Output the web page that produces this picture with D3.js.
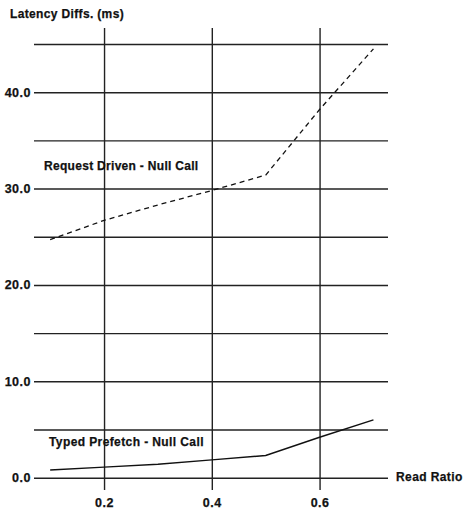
<!DOCTYPE html>
<html><head><meta charset="utf-8">
<script src="https://cdn.jsdelivr.net/npm/d3@7"></script>
<style>
html,body{margin:0;padding:0;background:#fff;}
text{font-family:"Liberation Sans",Arial,Helvetica,sans-serif;font-weight:bold;fill:#111;stroke:#111;stroke-width:0.25px;}
</style></head>
<body>
<svg id="c" width="465" height="511"></svg>
<script>
const readRatio = [0.1, 0.2, 0.3, 0.4, 0.5, 0.6, 0.7];
const requestDriven = [24.7, 26.7, 28.3, 29.8, 31.4, 38.2, 44.5];
const typedPrefetch = [0.8, 1.1, 1.4, 1.85, 2.3, 4.2, 6.0];
const xTicks = [0.2, 0.4, 0.6];
const yGrid = [0, 5, 10, 15, 20, 25, 30, 35, 40, 45];
const yLabelTicks = [0, 10, 20, 30, 40];
const yTitle = "Latency Diffs. (ms)";
const xTitle = "Read Ratio";
const seriesNames = ["Request Driven - Null Call", "Typed Prefetch - Null Call"];

const svg = d3.select("#c");
const x = d3.scaleLinear().domain([0.07, 0.727]).range([34, 388]);
const y = d3.scaleLinear().domain([0, 45]).range([477.7, 44]);
const vTop = 28, vBot = 490;

// horizontal grid + y labels
const gy = svg.append("g").attr("transform", `translate(${x.range()[0]},0)`)
  .call(d3.axisLeft(y).tickValues(yGrid)
    .tickSizeInner(-(x.range()[1] - x.range()[0])).tickSizeOuter(0).tickPadding(3)
    .tickFormat(d => yLabelTicks.includes(d) ? d3.format(".1f")(d) : ""));
gy.select(".domain").remove();
gy.selectAll(".tick line").attr("stroke", "#222").attr("stroke-width", 1.4);
gy.selectAll(".tick text").style("font-size", "12.5px").style("letter-spacing", "0.5px").attr("fill", "#111");

// vertical grid + x labels
const gx = svg.append("g").attr("transform", `translate(0,${vBot})`)
  .call(d3.axisBottom(x).tickValues(xTicks)
    .tickSizeInner(-(vBot - vTop)).tickSizeOuter(0).tickPadding(8)
    .tickFormat(d3.format(".1f")));
gx.select(".domain").remove();
gx.selectAll(".tick line").attr("stroke", "#222").attr("stroke-width", 1.4);
gx.selectAll(".tick text").style("font-size", "12.5px").style("letter-spacing", "0.5px").attr("fill", "#111");

const line = d3.line().x((d, i) => x(readRatio[i])).y(d => y(d));
svg.append("path").datum(requestDriven).attr("d", line)
  .attr("fill", "none").attr("stroke", "#111").attr("stroke-width", 1.3)
  .attr("stroke-dasharray", "5,4");
svg.append("path").datum(typedPrefetch).attr("d", line)
  .attr("fill", "none").attr("stroke", "#111").attr("stroke-width", 1.4);

svg.append("text").attr("x", 10).attr("y", 18).style("font-size", "12px").style("letter-spacing", "0.35px").text(yTitle);
svg.append("text").attr("x", 396).attr("y", 481).style("font-size", "12px").style("letter-spacing", "0.4px").text(xTitle);
svg.append("text").attr("x", 44).attr("y", 170).style("font-size", "12px").style("letter-spacing", "0.3px").text(seriesNames[0]);
svg.append("text").attr("x", 49).attr("y", 446).style("font-size", "12px").style("letter-spacing", "0.4px").text(seriesNames[1]);
</script>
</body></html>
